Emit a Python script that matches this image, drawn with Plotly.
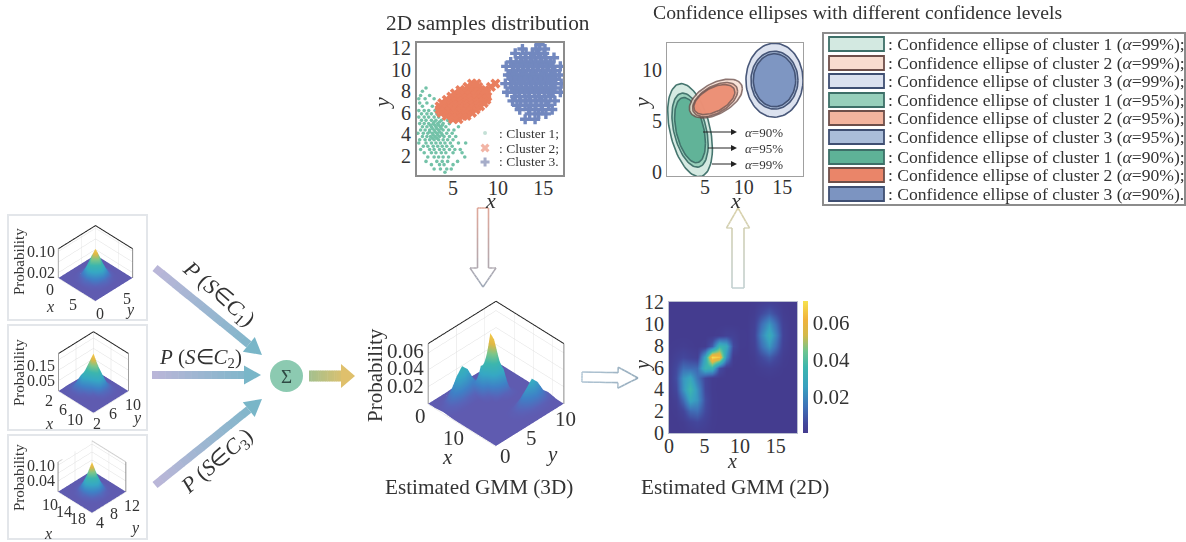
import numpy as np
import plotly.graph_objects as go

W, H = 1186, 542
SERIF = "Liberation Serif"
INK = "#333333"

# ---------- data ----------
cluster_1_rows = [
 (8.3,[2.0]),(8.0,[1.6]),(7.6,[1.4,2.4]),(7.3,[1.2,1.9,2.9]),(6.9,[1.3,2.1]),(6.6,[1.6,2.7,3.3]),
 (6.2,[1.2,1.8,2.3,3.0,3.5]),(5.9,[1.5,2.1,2.6,3.2,3.8]),(5.6,[1.2,1.8,2.3,2.9,3.4,4.1]),
 (5.3,[1.5,2.0,2.6,3.1,3.7,4.4,4.9]),(5.0,[1.3,1.8,2.3,2.8,3.3,3.9,4.6]),(4.7,[1.6,2.1,2.6,3.1,3.6,4.2,5.6]),
 (4.4,[1.4,1.9,2.4,2.9,3.4,3.9,4.5,5.1]),(4.1,[1.1,1.7,2.2,2.7,3.2,3.7,4.3,4.9]),
 (3.8,[1.6,2.1,2.5,3.0,3.5,4.0,4.6,5.3]),(3.5,[1.3,1.9,2.4,2.9,3.4,3.9,4.4,5.0]),
 (3.2,[1.2,2.0,2.6,3.1,3.6,4.1,4.7,5.6,6.4]),(2.9,[1.7,2.2,2.8,3.3,3.8,4.3,4.9]),
 (2.6,[1.4,2.4,2.9,3.5,4.0,4.6,5.2,5.8]),(2.3,[1.8,2.6,3.1,3.7,4.2,5.0,6.0]),(1.9,[2.2,2.9,3.4,3.9,4.5,6.3]),
 (1.5,[2.0,3.2,3.8,4.4,5.5]),(1.2,[2.6,3.5,4.0,5.0]),(0.8,[2.9,3.6,4.3,4.8]),(0.5,[4.1]),
 (5.15,[2.9,3.5]),(4.85,[2.5,3.0,3.4,3.8]),(4.55,[2.7,3.2,3.7]),(4.25,[2.4,3.0,3.5]),(3.95,[2.8,3.3,3.8]),(3.65,[2.7,3.2]),
]
cluster_2_rows = [
 (5.4,[5.0,5.6]),(5.7,[4.3,4.9,5.5,6.1,6.5]),(6.0,[3.7,4.2,4.8,5.4,6.0,6.6,7.1]),
 (6.3,[3.5,4.0,4.6,5.2,5.8,6.4,7.0,7.5]),(6.6,[3.5,4.1,4.7,5.3,5.9,6.5,7.1,7.7,8.0]),
 (6.9,[3.8,4.3,4.9,5.5,6.1,6.7,7.3,7.9,8.4]),(7.2,[4.3,4.8,5.4,6.0,6.6,7.2,7.8,8.4,8.7]),
 (7.5,[4.8,5.3,5.9,6.5,7.1,7.7,8.3,8.8]),(7.8,[5.2,5.8,6.4,7.0,7.6,8.2,8.7]),
 (8.1,[5.8,6.3,6.9,7.5,8.1,8.5]),(8.4,[6.6,7.2,7.8,9.2]),(8.7,[7.1,7.6,9.7]),
]
cluster_3_rows = [
 (5.4,[13.0,14.1]),(5.9,[13.5,14.5,15.3]),(6.3,[12.4,13.4,14.1,14.9,16.0]),(6.7,[12.1,13.0,13.6,14.2,14.8,15.6]),
 (7.1,[11.6,12.5,13.1,13.6,14.2,14.8,15.3,16.3]),(7.5,[11.9,12.4,13.0,13.5,14.1,14.6,15.2,15.8]),
 (7.9,[11.0,11.8,12.3,12.9,13.4,14.0,14.5,15.1,15.6,16.1,16.9]),(8.3,[11.5,12.1,12.6,13.2,13.7,14.3,14.8,15.4,15.9,16.3]),
 (8.7,[10.8,11.4,11.9,12.5,13.0,13.6,14.1,14.7,15.2,15.8,16.3,17.0]),(9.1,[11.6,12.2,12.7,13.3,13.8,14.4,14.9,15.5,16.0,16.4]),
 (9.5,[11.1,11.4,11.9,12.5,13.0,13.6,14.1,14.7,15.2,15.8,16.3,16.8]),(9.9,[11.6,12.1,12.7,13.2,13.8,14.3,14.9,15.4,16.0,16.3]),
 (10.3,[10.9,11.7,12.3,12.8,13.4,13.9,14.5,15.0,15.6,16.1,16.9]),(10.7,[11.4,12.0,12.6,13.1,13.7,14.2,14.8,15.3,15.8]),
 (11.1,[12.5,13.0,13.6,14.1,14.7,15.3,16.2]),(11.5,[11.9,13.1,13.8,14.5,15.1]),
 (11.9,[12.7,14.2,15.2]),(12.3,[14.6]),
]
legend_marker_x = [8.55, 8.55, 8.55]
legend_marker_y = [4.13, 2.74, 1.44]
scatter_labels = [": Cluster 1;", ": Cluster 2;", ": Cluster 3."]

# estimated GMM probability, rows y = 0..12, columns x = 0..18 (thousandths)
gmm_x = list(range(19))
gmm_y = list(range(13))
gmm_z = [
 [0,0,0,.5,1.1,.8,.2,0,0,0,0,0,0,0,0,0,0,0,0],
 [0,0,.8,3.3,4.9,2.7,.5,0,0,0,0,0,0,0,0,0,0,0,0],
 [0,.5,4.1,12.4,13.7,5.6,.8,0,0,0,0,0,0,0,0,0,0,0,0],
 [0,2,12.4,27.5,22.6,6.8,.8,0,0,0,0,0,0,0,0,0,0,0,0],
 [.4,4.9,21.9,36,21.9,4.9,.4,0,0,0,0,0,0,0,0,0,0,0,0],
 [.8,6.8,22.6,28.3,15.3,4.5,.6,0,0,0,0,0,0,0,.3,0,0,0,0],
 [.8,5.6,13.7,13,12.6,34,33,7,.3,0,0,0,.2,1.3,2.2,1.3,.2,0,0],
 [.5,2.7,4.9,3.3,2.1,28,71,66,22,.6,0,0,1,5.5,9.5,5.5,1,0,0],
 [.2,.6,1.1,.5,0,.6,10,35,30,5.6,.3,.2,2.5,13.2,23,13.2,2.5,.2,0],
 [0,0,0,0,0,0,0,.8,2.9,2.5,.5,.2,3.4,17.8,31,17.8,3.4,.2,0],
 [0,0,0,0,0,0,0,0,0,0,0,.2,2.5,13.2,23,13.2,2.5,.2,0],
 [0,0,0,0,0,0,0,0,0,0,0,0,1,5.5,9.5,5.5,1,0,0],
 [0,0,0,0,0,0,0,0,0,0,0,0,.2,1.3,2.2,1.3,.2,0,0],
]
# single-cluster surfaces (thousandths)
c1_x = [0,1,2,3,4,5,6,7,8]
c1_y = [0,1,2,3,4,5,6,7,8]
c1_z = [
 [0,0,0,0,0,0,0,0,0],
 [0,0,0,.2,1,.2,0,0,0],
 [0,0,2,9,15,9,2,0,0],
 [0,.2,9,40,67,40,9,.2,0],
 [0,1,15,67,110,67,15,1,0],
 [0,.2,9,40,67,40,9,.2,0],
 [0,0,2,9,15,9,2,0,0],
 [0,0,0,.2,1,.2,0,0,0],
 [0,0,0,0,0,0,0,0,0],
]
c2_x = [2,3,4,5,6,7,8,9,10]
c2_y = [2,3,4,5,6,7,8,9,10]
c2_z = [
 [0,0,0,0,0,0,0,0,0],
 [.5,3,6,3,.5,0,0,0,0],
 [2,12,30,28,8,1,0,0,0],
 [1,14,60,95,55,12,1,0,0],
 [0,5,40,125,180,100,20,1,0],
 [0,1,10,55,110,80,22,3,0],
 [0,0,1,10,30,30,12,2,0],
 [0,0,0,1,4,5,3,.5,0],
 [0,0,0,0,0,0,0,0,0],
]
c3_x = [10,11,12,13,14,15,16,17,18]
c3_y = [4,5,6,7,8,9,10,11,12]
c3_z = [
 [0,0,0,0,0,0,0,0,0],
 [0,0,0,.3,1,.3,0,0,0],
 [0,0,2,8,14,8,2,0,0],
 [0,.3,8,36,62,36,8,.3,0],
 [0,1,14,62,112,62,14,1,0],
 [0,.3,8,36,62,36,8,.3,0],
 [0,0,2,8,14,8,2,0,0],
 [0,0,0,.3,1,.3,0,0,0],
 [0,0,0,0,0,0,0,0,0],
]

# ellipse parameters: centre x, centre y, half-extent x, half-extent y, correlation
ellipse_params = {
 "c1_99": (3.05, 4.1, 2.90, 4.56, -0.40), "c1_95": (3.05, 4.1, 2.35, 3.63, -0.40), "c1_90": (3.05, 4.1, 2.00, 3.20, -0.40),
 "c2_99": (6.40, 7.2, 3.44, 1.90, 0.50), "c2_95": (6.30, 7.1, 2.92, 1.67, 0.50), "c2_90": (6.20, 7.1, 2.66, 1.47, 0.50),
 "c3_99": (14.0, 9.0, 3.70, 3.63, 0.0), "c3_95": (14.0, 9.0, 3.05, 2.84, 0.0), "c3_90": (14.0, 9.0, 2.75, 2.60, 0.0),
}
ellipse_order = ["c1_99","c3_99","c1_95","c3_95","c1_90","c3_90","c2_99","c2_95","c2_90"]
ellipse_fill = {
 "c1_99":"#d3e9e1","c1_95":"#97cfbb","c1_90":"#5eb297",
 "c2_99":"#f8dccf","c2_95":"#f3b49e","c2_90":"#ea8569",
 "c3_99":"#dbe1ef","c3_95":"#aabdd9","c3_90":"#7c94c1",
}
legend_keys = ["c1_99","c2_99","c3_99","c1_95","c2_95","c3_95","c1_90","c2_90","c3_90"]
legend_labels = [
 ": Confidence ellipse of cluster 1 (<i>α</i>=99%);", ": Confidence ellipse of cluster 2 (<i>α</i>=99%);",
 ": Confidence ellipse of cluster 3 (<i>α</i>=99%);", ": Confidence ellipse of cluster 1 (<i>α</i>=95%);",
 ": Confidence ellipse of cluster 2 (<i>α</i>=95%);", ": Confidence ellipse of cluster 3 (<i>α</i>=95%);",
 ": Confidence ellipse of cluster 1 (<i>α</i>=90%);", ": Confidence ellipse of cluster 2 (<i>α</i>=90%);",
 ": Confidence ellipse of cluster 3 (<i>α</i>=90%).",
]
legend_row_y = [44, 63, 81, 100, 118, 137, 157, 175, 194]
edge_colour = {"c1":"#3d6f68","c2":"#6e4f4a","c3":"#3f4f72"}

GMM_SCALE = [[0,"#443c8f"],[0.07,"#43479c"],[0.2,"#3f72b8"],[0.35,"#38a0c0"],[0.5,"#3cb6ae"],[0.62,"#6ec58f"],[0.74,"#d3b94a"],[0.86,"#f1b33c"],[1,"#f6e24f"]]
SURF_SCALE = [[0,"#5f5bb0"],[0.06,"#5a62b8"],[0.2,"#3f80c6"],[0.38,"#36a8c4"],[0.55,"#3cb6ae"],[0.7,"#7cc68a"],[0.85,"#e0b845"],[1,"#f4c94a"]]

# ---------- helpers ----------
def fx(p): return p / W
def fy(p): return 1 - p / H

def flatten(rows):
    xs, ys = [], []
    for y, row in rows:
        for x in row:
            xs.append(x); ys.append(y)
    return xs, ys

shapes, annots = [], []

def label(x, y, text, size=16, angle=0, color=INK, xanchor="center"):
    annots.append(dict(x=fx(x), y=fy(y), xref="paper", yref="paper", text=text, showarrow=False,
                       font=dict(family=SERIF, size=size, color=color), textangle=angle,
                       xanchor=xanchor, yanchor="middle"))

def mix(c0, c1, t):
    a = [int(c0[i:i+2],16) for i in (1,3,5)]
    b = [int(c1[i:i+2],16) for i in (1,3,5)]
    return "rgb(%d,%d,%d)" % tuple(round(a[i]+(b[i]-a[i])*t) for i in range(3))

def polygon(pts, fill, line=None, lw=0, layer="above"):
    path = "M " + " L ".join(f"{fx(x):.5f},{fy(y):.5f}" for x, y in pts) + " Z"
    shapes.append(dict(type="path", xref="paper", yref="paper", path=path, fillcolor=fill,
                       line=dict(color=line or fill, width=lw), layer=layer))

def solid_arrow(x0, y0, x1, y1, body, head_w, head_l, c0, c1, n=14):
    d = np.array([x1-x0, y1-y0], float); L = np.hypot(*d); d /= L; nrm = np.array([-d[1], d[0]])
    p0 = np.array([x0, y0], float); body_len = L - head_l
    for i in range(n):
        a = p0 + d*body_len*i/n; b = p0 + d*min(body_len, body_len*(i+1)/n + 0.5)
        polygon([a+nrm*body/2, b+nrm*body/2, b-nrm*body/2, a-nrm*body/2], mix(c0, c1, i/n*0.9))
    base = p0 + d*body_len
    polygon([base+nrm*head_w/2, np.array([x1,y1]), base-nrm*head_w/2], mix(c0, c1, 1))

def hollow_arrow(x0, y0, x1, y1, body, head_w, head_l, c0, c1, n=6, lw=1.6):
    d = np.array([x1-x0, y1-y0], float); L = np.hypot(*d); d /= L; nrm = np.array([-d[1], d[0]])
    p0 = np.array([x0, y0], float); base = p0 + d*(L-head_l)
    pts = [p0+nrm*body/2, base+nrm*body/2, base+nrm*head_w/2, np.array([x1,y1], float),
           base-nrm*head_w/2, base-nrm*body/2, p0-nrm*body/2, p0+nrm*body/2]
    polygon(pts, "white")
    for a, b in zip(pts[:-1], pts[1:]):
        for i in range(n):
            s = a+(b-a)*i/n; e = a+(b-a)*(i+1)/n
            t = float(np.dot((s+e)/2-p0, d)/L)
            shapes.append(dict(type="line", xref="paper", yref="paper", x0=fx(s[0]), y0=fy(s[1]), x1=fx(e[0]), y1=fy(e[1]),
                               line=dict(color=mix(c0, c1, min(max(t,0),1)), width=lw), layer="above"))

def box(x0, y0, x1, y1, line, lw=2, fill="rgba(0,0,0,0)", layer="below"):
    shapes.append(dict(type="rect", xref="paper", yref="paper", x0=fx(x0), y0=fy(y0), x1=fx(x1), y1=fy(y1),
                       line=dict(color=line, width=lw), fillcolor=fill, layer=layer))

fig = go.Figure()

# ---------- 2D scatter ----------
scatter_styles = [
 (cluster_1_rows, dict(symbol="circle", size=3.6, color="#73c2a8"), "#c4e0d6"),
 (cluster_2_rows, dict(symbol="x", size=9, color="#e97f5f"), "#f2b5a6"),
 (cluster_3_rows, dict(symbol="cross", size=8.5, color="#7288bf"), "#a6adc9"),
]
for i, (rows, marker, pale) in enumerate(scatter_styles):
    xs, ys = flatten(rows)
    fig.add_trace(go.Scatter(x=xs, y=ys, mode="markers", name=scatter_labels[i], marker=marker,
                             xaxis="x", yaxis="y", hoverinfo="skip", showlegend=False))
    key_marker = dict(marker, color=pale, size=max(marker["size"]-1, 4))
    fig.add_trace(go.Scatter(x=[legend_marker_x[i]], y=[legend_marker_y[i]], mode="markers", marker=key_marker,
                             xaxis="x", yaxis="y", hoverinfo="skip", showlegend=False))
for s, y in zip(scatter_labels, (133, 148, 162)):
    label(497, y, s, 13.5, xanchor="left")

# ---------- confidence ellipses ----------
t = np.linspace(0, 2*np.pi, 90)
for key in ellipse_order:
    cx, cy, sx, sy, r = ellipse_params[key]
    ex = cx + sx*np.cos(t)
    ey = cy + sy*(r*np.cos(t) + np.sqrt(1-r*r)*np.sin(t))
    fig.add_trace(go.Scatter(x=ex, y=ey, mode="lines", fill="toself", fillcolor=ellipse_fill[key],
                             line=dict(color=edge_colour[key[:2]], width=1.6), opacity=0.78 if key[:2] == "c2" else 0.95,
                             xaxis="x2", yaxis="y2", showlegend=False, hoverinfo="skip"))

# ---------- heatmap ----------
fig.add_trace(go.Heatmap(x=gmm_x, y=gmm_y, z=np.array(gmm_z)/1000, zsmooth="best", colorscale=GMM_SCALE, zmin=0, zmax=0.072,
                         xaxis="x3", yaxis="y3", hoverinfo="skip",
                         colorbar=dict(x=fx(803), xanchor="left", y=fy(433), yanchor="bottom", lenmode="pixels", len=132,
                                       thicknessmode="pixels", thickness=5, outlinewidth=0, tickvals=[0.02,0.04,0.06],
                                       ticktext=["0.02","0.04","0.06"], ticks="", xpad=0, ypad=0,
                                       tickfont=dict(family=SERIF, size=21, color=INK))))

# ---------- 3D surfaces ----------
def scene_cfg(dom, xr, yr, zr, zratio, xt, yt, zt):
    ax = lambda r, tv: dict(range=r, tickvals=tv, showticklabels=False, title=dict(text=""), showbackground=True,
                            backgroundcolor="white", gridcolor="#dedede", gridwidth=1, zeroline=False,
                            showline=False, ticks="", showspikes=False)
    return dict(domain=dict(x=[fx(dom[0]), fx(dom[2])], y=[fy(dom[3]), fy(dom[1])]),
                xaxis=ax(xr, xt), yaxis=ax(yr, yt), zaxis=ax(zr, zt),
                aspectmode="manual", aspectratio=dict(x=1, y=1, z=zratio),
                camera=dict(eye=dict(x=1.25, y=-1.25, z=1.41), center=dict(x=0, y=0, z=0), up=dict(x=0, y=0, z=1),
                            projection=dict(type="orthographic")),
                bgcolor="rgba(0,0,0,0)", dragmode=False)

surfaces = [
 ("scene",  gmm_x, gmm_y, gmm_z, (399.5, 277.5, 591.5, 469.5), 0.81, [0,18], [0,12], 0.071, [5,10,15], [0,5,10], [0.02,0.04,0.06], "#222222"),
 ("scene2", c1_x, c1_y, c1_z, (42.5, 210.5, 147.5, 315.5), 0.72, [0,8], [0,8], 0.11, [0,5], [0,5], [0.02,0.06,0.10], "#222222"),
 ("scene3", c2_x, c2_y, c2_z, (43.5, 323, 142.5, 422), 0.98, [2,10], [2,10], 0.18, [2,6,10], [2,6,10], [0.05,0.10,0.15], "#222222"),
 ("scene4", c3_x, c3_y, c3_z, (44, 429, 140, 525), 0.80, [10,18], [4,12], 0.112, [10,14,18], [4,8,12], [0.04,0.07,0.10], "#cfcfcf"),
]
layout_scenes = {}
for name, xv, yv, zv, dom, zr, xrng, yrng, ztop, xt, yt, zt, edge in surfaces:
    zarr = np.array(zv)/1000
    fig.add_trace(go.Surface(x=xv, y=yv, z=zarr, scene=name, colorscale=SURF_SCALE, cmin=0, cmax=ztop, showscale=False,
                             hoverinfo="skip", lighting=dict(ambient=1.0, diffuse=0.1, specular=0, roughness=1, fresnel=0)))
    # black top edges of the two back walls, grey vertical edges at the side corners
    fig.add_trace(go.Scatter3d(x=[xrng[0], xrng[0], xrng[1]], y=[yrng[0], yrng[1], yrng[1]], z=[ztop, ztop, ztop], mode="lines",
                               line=dict(color=edge, width=2), scene=name, showlegend=False, hoverinfo="skip"))
    for cx_, cy_ in ((xrng[0], yrng[0]), (xrng[1], yrng[1])):
        fig.add_trace(go.Scatter3d(x=[cx_, cx_], y=[cy_, cy_], z=[0, ztop], mode="lines",
                                   line=dict(color="#8a8a8a", width=2), scene=name, showlegend=False, hoverinfo="skip"))
    layout_scenes[name] = scene_cfg(dom, xrng, yrng, [-ztop*0.012, ztop], zr, xt, yt, zt)

# ---------- text labels for the 3D panels ----------
main_ticks = [(405,351,"0.06"),(405,368,"0.04"),(405,386,"0.02"),(420,416,"0"),(453,438,"10"),(505,456,"0"),(531,438,"5"),(565,419,"10")]
for x, y, s in main_ticks: label(x, y, s, 21)
label(375, 375, "Probability", 21, -90); label(447, 457, "<i>x</i>", 21); label(552, 454, "<i>y</i>", 21)

p1 = [(41,252,"0.10"),(41,272,"0.02"),(50,289,"0"),(73,304,"5"),(100,313,"0"),(127,298,"5")]
p2 = [(41,365,"0.15"),(41,380,"0.05"),(49,400,"2"),(63,409,"6"),(75,419,"10"),(97,423,"2"),(113,413,"6"),(133,404,"10")]
p3 = [(41,465,"0.10"),(41,480,"0.04"),(50,504,"10"),(64,511,"14"),(78,518,"18"),(100,522,"4"),(114,513,"8"),(132,505,"12")]
for x, y, s in p1 + p2 + p3: label(x, y, s, 16)
for y in (262, 373, 478): label(19, y, "Probability", 15, -90)
for x, y, s in [(50,306,"x"),(130,310,"y"),(49,423,"x"),(137,418,"y"),(48,533,"x"),(135,528,"y")]:
    label(x, y, f"<i>{s}</i>", 16)

# panel frames
box(8, 215, 147, 320, "#e3e6ea"); box(8, 325, 147, 430, "#e3e6ea"); box(8, 435, 147, 539, "#e3e6ea")

# ---------- arrows & flow ----------
solid_arrow(155, 268, 262, 355, 8, 19, 17, "#b9b6d8", "#79b6c8")
solid_arrow(152, 375, 261, 375, 8, 19, 17, "#b9b6d8", "#79b6c8")
solid_arrow(155, 485, 262, 399, 8, 19, 17, "#b9b6d8", "#79b6c8")
solid_arrow(309, 376, 355, 376, 11, 24, 14, "#a5c08d", "#dfc06c")
shapes.append(dict(type="circle", xref="paper", yref="paper", x0=fx(270), y0=fy(392), x1=fx(303), y1=fy(360),
                   fillcolor="#8ccab1", line=dict(width=0), layer="above"))
label(286.5, 376, "Σ", 19, color="#2f4a44")
hollow_arrow(483, 208, 483, 287, 11, 26, 19, "#e0a89a", "#9fa9b8")
hollow_arrow(582, 377, 638, 378, 10, 21, 20, "#b4c8d6", "#93aabb")
hollow_arrow(738, 288, 738, 208, 12, 23, 20, "#c2d0d2", "#d8d0a8")

label(218, 294, "<i>P</i> (<i>S</i>∈<i>C</i><sub>1</sub>)", 22, 41)
label(200, 358, "<i>P</i> (<i>S</i>∈<i>C</i><sub>2</sub>)", 21)
label(217, 462, "<i>P</i> (<i>S</i>∈<i>C</i><sub>3</sub>)", 22, -41)

# ---------- titles ----------
label(488, 23, "2D samples distribution", 21.3)
label(857, 12, "Confidence ellipses with different confidence levels", 19.7)
label(479, 487, "Estimated GMM (3D)", 21.2)
label(735, 487, "Estimated GMM (2D)", 21.2)

# axis titles
label(490, 201, "<i>x</i>", 22); label(382, 103, "<i>y</i>", 22, -90)
label(735, 201, "<i>x</i>", 22); label(642, 103, "<i>y</i>", 22, -90)
label(732, 461, "<i>x</i>", 20); label(642, 366, "<i>y</i>", 20, -90)

# ellipse callouts
for y, xs, s in [(132, 703, "90"), (148, 708, "95"), (164, 712, "99")]:
    solid_arrow(xs, y, 737, y, 1, 6, 6, "#222222", "#222222", n=1)
    label(743, y, f"<i>α</i>={s}%", 13, xanchor="left")

# ---------- legend panel ----------
box(823, 33, 1185, 205, "#8c8c8c", 2)
for key, text, y in zip(legend_keys, legend_labels, legend_row_y):
    box(829, y-7, 884, y+7, edge_colour[key[:2]], 1.8, ellipse_fill[key])
    label(886, y, text, 17.6, xanchor="left")

axis_font = dict(family=SERIF, size=20, color=INK)
def dom_x(a, b): return [fx(a), fx(b)]
def dom_y(a, b): return [fy(b), fy(a)]
frame = dict(showgrid=False, zeroline=False, showline=True, mirror=True, ticks="", tickfont=axis_font)

fig.update_layout(
    width=W, height=H, margin=dict(l=0, r=0, t=0, b=0, autoexpand=False), autosize=False, paper_bgcolor="white", plot_bgcolor="white",
    shapes=shapes, annotations=annots, showlegend=False,
    xaxis=dict(domain=dom_x(417, 563), range=[1, 17.2], tickvals=[5,10,15], anchor="y", linecolor="#8c8c8c", linewidth=2, ticklabelstandoff=-6, **frame),
    yaxis=dict(domain=dom_y(43, 175), range=[0.24, 12.46], tickvals=[2,4,6,8,10,12], anchor="x", linecolor="#8c8c8c", linewidth=2, **frame),
    xaxis2=dict(domain=dom_x(667, 803), range=[0.06, 17.7], tickvals=[5,10,15], anchor="y2", linecolor="#a0a0a0", linewidth=1.2, ticklabelstandoff=-7, **frame),
    yaxis2=dict(domain=dom_y(43, 176), range=[-0.4, 12.65], tickvals=[0,5,10], anchor="x2", linecolor="#a0a0a0", linewidth=1.2, **frame),
    xaxis3=dict(domain=dom_x(669, 797), range=[0, 18], tickvals=[0,5,10,15], anchor="y3", linecolor="#b9bed0", linewidth=1, ticklabelstandoff=-5, **frame),
    yaxis3=dict(domain=dom_y(302, 433), range=[0, 12], tickvals=[0,2,4,6,8,10,12], anchor="x3", linecolor="#b9bed0", linewidth=1, **frame),
    **layout_scenes,
)

fig.write_html("out.html", config=dict(displayModeBar=False),
               post_script="document.body.style.margin='0';document.body.style.overflow='hidden';")
